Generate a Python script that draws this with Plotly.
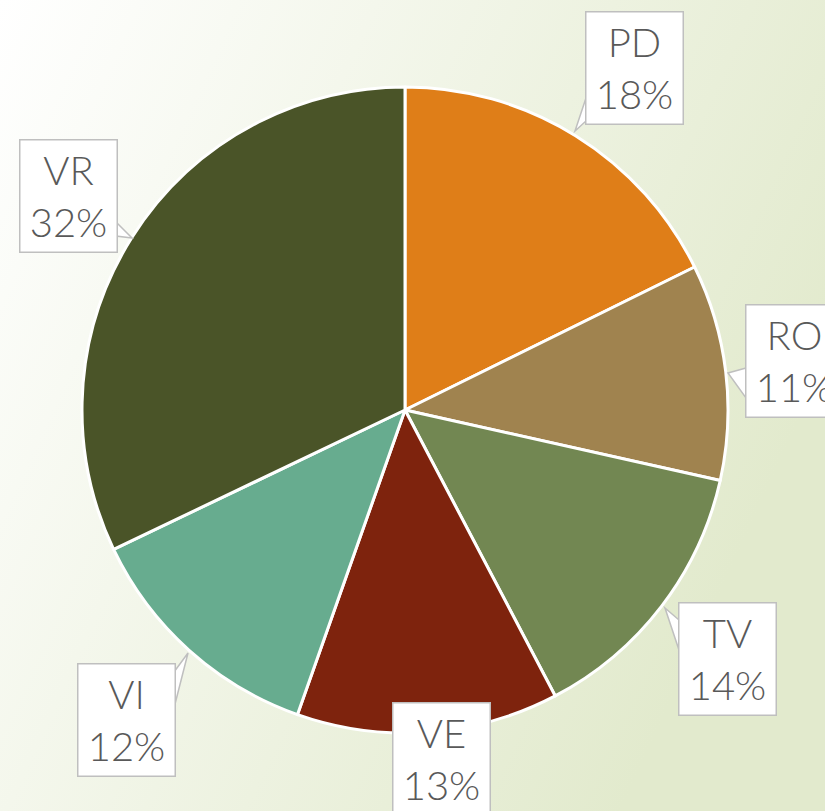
import base64
import plotly.graph_objects as go

# Data
categories = ["PD", "RO", "TV", "VE", "VI", "VR"]
values = [17.7, 10.8, 13.8, 13.1, 12.5, 32.1]
pct_labels = ["18%", "11%", "14%", "13%", "12%", "32%"]
colors = ["#DF7E18", "#A0834F", "#728752", "#7E230D", "#67AC8F", "#4A5428"]

W, H = 825, 811

# label box placement (pixel centre of box) and callout pointer (tip, base ends)
box_centers = [(634, 68), (794, 361), (727, 659), (441, 759), (126, 720), (68, 196)]
pointers = [
    ((575, 131), (586, 98), (586, 121)),
    ((728, 373), (746, 368), (746, 398)),
    ((665, 608), (679, 620), (679, 650)),
    None,
    ((188, 653), (174, 672), (174, 708)),
    ((132, 238), (116, 222), (116, 236)),
]

fig = go.Figure(go.Pie(
    labels=categories,
    values=values,
    marker=dict(colors=colors, line=dict(color="white", width=3)),
    sort=False,
    direction="clockwise",
    rotation=0,
    textinfo="none",
    hoverinfo="label+percent",
    domain=dict(x=[(405 - 323) / W, (405 + 323) / W],
                y=[(H - 410 - 323) / H, (H - 410 + 323) / H]),
    showlegend=False,
))


def px(x, y):
    return f"{x / W:.5f},{1 - y / H:.5f}"


anns = []
shapes = []
for cat, pct, (bx, by), ptr in zip(categories, pct_labels, box_centers, pointers):
    anns.append(dict(
        text=f"{cat}<br>{pct}",
        font=dict(family="Lato, Noto Sans, sans-serif", size=40, color="#595959",
                  weight=300),
        bgcolor="white",
        bordercolor="#BFBFBF",
        borderwidth=1.5,
        borderpad=0,
        width=96,
        height=111,
        xref="paper", yref="paper",
        x=bx / W, y=1 - by / H, showarrow=False,
        xanchor="center", yanchor="middle",
    ))
    if ptr is not None:
        tip, b1, b2 = ptr
        shapes.append(dict(
            type="path", xref="paper", yref="paper",
            path=f"M {px(*b1)} L {px(*tip)} L {px(*b2)} Z",
            fillcolor="white", line=dict(color="#BFBFBF", width=1.5),
            layer="above",
        ))

svg = ('<svg xmlns="http://www.w3.org/2000/svg" width="825" height="811">'
       '<defs><linearGradient id="g" x1="0" y1="0" x2="1" y2="0.45">'
       '<stop offset="0" stop-color="#FFFFFF"/>'
       '<stop offset="1" stop-color="#E2EACD"/>'
       '</linearGradient></defs>'
       '<rect width="825" height="811" fill="url(#g)"/></svg>')
src = "data:image/svg+xml;base64," + base64.b64encode(svg.encode()).decode()

fig.update_layout(
    width=W, height=H,
    margin=dict(l=0, r=0, t=0, b=0),
    paper_bgcolor="white",
    plot_bgcolor="white",
    annotations=anns,
    shapes=shapes,
    images=[dict(source=src, xref="paper", yref="paper", x=0, y=1,
                 sizex=1, sizey=1, xanchor="left", yanchor="top",
                 sizing="stretch", layer="below")],
)

fig.write_html("out.html",
               config={"displayModeBar": False},
               post_script="document.body.style.margin='0';document.body.style.overflow='hidden';")
